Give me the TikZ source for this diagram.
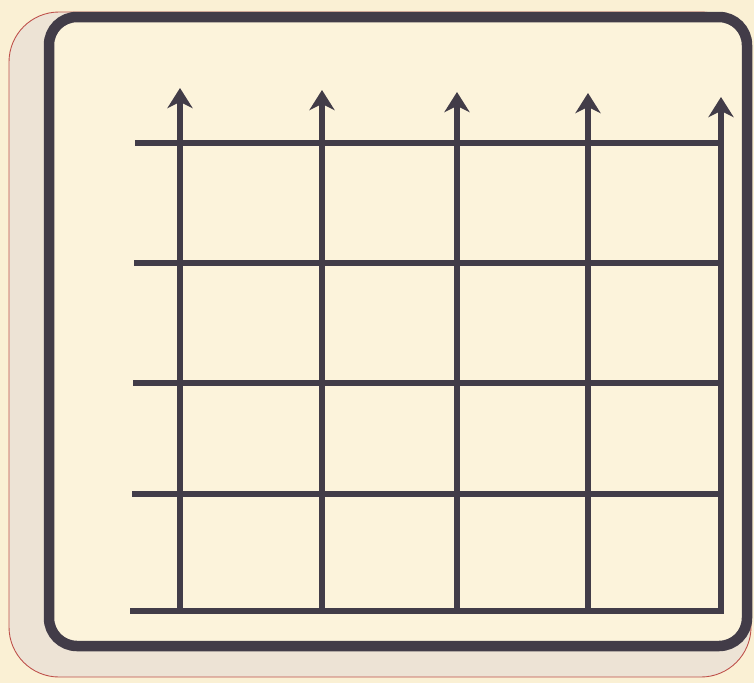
\documentclass[tikz,border=0pt]{standalone}
\usetikzlibrary{arrows.meta}
\definecolor{snpaper}{RGB}{250,240,212}
\definecolor{sncard}{RGB}{252,243,219}
\definecolor{snshade}{RGB}{237,227,213}
\definecolor{snedge}{RGB}{190,80,74}
\definecolor{snink}{RGB}{66,60,72}

\begin{document}
\begin{tikzpicture}[
    x=0.2mm, y=-0.2mm,
    >={Stealth[length=4mm, width=5mm, inset=1.2mm]},
    shade/.style={fill=snshade, draw=snedge, line width=0.5pt, rounded corners=10mm},
    frame/.style={fill=sncard, draw=snink, line width=2.1mm, rounded corners=5.6mm},
    rail/.style={draw=snink, line width=1.1mm, line cap=rect},
    post/.style={draw=snink, line width=1.1mm, ->},
  ]

  % the page
  \useasboundingbox[fill=snpaper] (0,0) rectangle (754,683);

  % the card and its shadow
  \draw[shade] (9,12) rectangle (751,677);
  \draw[frame] (49,17) rectangle (747,646);

  % the posts, rising to arrows
  \foreach \j/\x/\t in {1/180/88, 2/322/90, 3/457/92, 4/588/93, 5/721/97}{
    \coordinate (B\j) at (\x,611);
    \coordinate (T\j) at (\x,\t);
  }

  % the rails, running to the last post
  \foreach \i/\y/\l in {1/143/138, 2/263/137, 3/383/136, 4/494/135, 5/611/133}
    \coordinate (L\i) at (\l,\y);

  \foreach \i in {1,...,5}
    \draw[rail] (L\i) -- (L\i -| B5);

  \foreach \j in {1,...,5}
    \draw[post] (B\j) -- (T\j);

\end{tikzpicture}
\end{document}
